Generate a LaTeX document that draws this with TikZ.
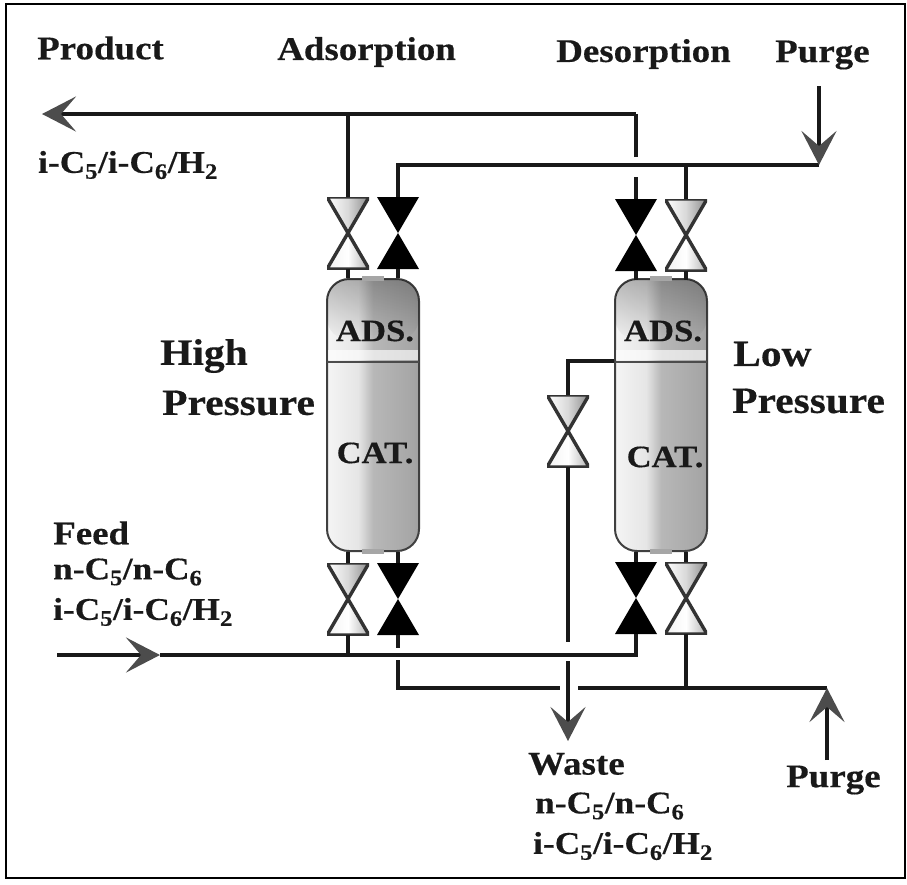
\documentclass[tikz,border=0pt]{standalone}
\usepackage{fontspec}
\setmainfont{Liberation Serif}[FakeStretch=1.12, BoldFeatures={FakeBold=0.4}]
\usetikzlibrary{arrows.meta, positioning, fadings}

\pgfdeclarehorizontalshading{vesselshade}{100bp}{
  color(0bp)=(black!55); color(6bp)=(black!40); color(12bp)=(black!15);
  color(22bp)=(black!3); color(42bp)=(black!10); color(50bp)=(black!28);
  color(72bp)=(black!35); color(88bp)=(black!48); color(100bp)=(black!75)}

\newcommand{\normalmix}{n-C\textsubscript{5}/n-C\textsubscript{6}}
\newcommand{\isomix}{i-C\textsubscript{5}/i-C\textsubscript{6}/H\textsubscript{2}}

\tikzset{
  pipe/.style={line width=3.8pt, black!90},
  flow/.style={pipe, -{Stealth[length=34pt, width=35pt, inset=15pt, black!70]}},
  label/.style={font=\fontsize{33}{36}\bfseries\selectfont, inner sep=0pt, anchor=west, text=black!90},
  mixlabel/.style={label, font=\fontsize{31.5}{36}\bfseries\selectfont},
  biglabel/.style={label, font=\fontsize{37}{42}\bfseries\selectfont},
  tag/.style={label, font=\fontsize{31}{36}\bfseries\selectfont, anchor=center},
  vessel/.style={draw=black!75, line width=2pt, shading=vesselshade, rounded corners=22pt,
    minimum width=92pt, minimum height=272pt, inner sep=0pt},
  valvebox/.style={minimum width=42pt, minimum height=72pt, inner sep=0pt},
  openvalve/.style={valvebox, path picture={
    \shade[left color=white, right color=black!45, middle color=black!15]
      (path picture bounding box.north west) -- (path picture bounding box.north east)
      -- (path picture bounding box.center) -- cycle;
    \shade[left color=black!5, right color=black!30, middle color=white]
      (path picture bounding box.south west) -- (path picture bounding box.south east)
      -- (path picture bounding box.center) -- cycle;
    \draw[black!80, line width=3.4pt]
      (path picture bounding box.north west) -- (path picture bounding box.north east)
      -- (path picture bounding box.south west) -- (path picture bounding box.south east)
      -- (path picture bounding box.north west);
  }},
  shutvalve/.style={valvebox, path picture={
    \fill[black]
      (path picture bounding box.north west) -- (path picture bounding box.north east)
      -- (path picture bounding box.south west) -- (path picture bounding box.south east) -- cycle;
  }}
}

\begin{document}
\begin{tikzpicture}[x=1pt, y=-1pt]
  \useasboundingbox (0,0) rectangle (907,884);
  \draw[line width=2.6pt] (6,4) rectangle (905,878);

  % vessels
  \node[vessel] (high) at (373,415) {};
  \node[vessel] (low) at (661,415) {};
  \foreach \ves/\x in {high/373, low/661} {
    \fill[black, path fading=south, fill opacity=0.25, rounded corners=22pt]
      (\x-46,340) -- (\x-46,279) -- (\x+46,279) -- (\x+46,340) -- cycle;
    \fill[white, opacity=0.65] (\x-45,350) rectangle (\x+45,360);
    \draw[black!70, line width=2.6pt] (\x-46,362) -- (\x+46,362);
    \fill[black!35] (\x-11,276) rectangle (\x+11,281);
    \fill[black!35] (\x-11,549) rectangle (\x+11,554);
  }

  % valves
  \node[openvalve] (hightopa) at (348,233) {};
  \node[shutvalve] (hightopb) at (398,233) {};
  \node[shutvalve] (lowtopa) at (636,235) {};
  \node[openvalve] (lowtopb) at (686,235) {};
  \node[openvalve] (highbota) at (348,599) {};
  \node[shutvalve] (highbotb) at (398,599) {};
  \node[shutvalve] (lowbota) at (636,598) {};
  \node[openvalve] (lowbotb) at (686,598) {};
  \node[openvalve] (wastevalve) at (568,431) {};

  % points on the pipes
  \coordinate (productend) at (42,114);
  \coordinate (productjoin) at (348,114);
  \coordinate (productcorner) at (636,114);
  \coordinate (productgapa) at (636,157);
  \coordinate (productgapb) at (636,177);
  \coordinate (purgetopstart) at (819,86);
  \coordinate (purgetopjoin) at (819,165);
  \coordinate (purgetopcorner) at (398,165);
  \coordinate (purgetopbranch) at (686,165);
  \coordinate (feedstart) at (57,655);
  \coordinate (feedtip) at (160,655);
  \coordinate (feedjoin) at (348,655);
  \coordinate (feedend) at (636,655);
  \coordinate (wastegapa) at (398,648);
  \coordinate (wastegapb) at (398,660);
  \coordinate (purgelowcorner) at (398,688);
  \coordinate (purgelowgapa) at (560,688);
  \coordinate (purgelowgapb) at (578,688);
  \coordinate (purgelowbranch) at (686,688);
  \coordinate (purgelowjoin) at (827,688);
  \coordinate (purgelowstart) at (827,760);
  \coordinate (wastecorner) at (568,361);
  \coordinate (wastelinea) at (568,642);
  \coordinate (wastelineb) at (568,661);
  \coordinate (wastetip) at (568,741);

  % top pipes
  \draw[flow] (productcorner) -- (productend);
  \draw[pipe] (productgapa) -- (productcorner);
  \draw[pipe] (productgapb) -- (lowtopa.north);
  \draw[pipe] (productjoin) -- (hightopa.north);
  \draw[pipe] (purgetopjoin) -- (purgetopcorner) -- (hightopb.north);
  \draw[pipe] (purgetopbranch) -- (lowtopb.north);
  \draw[flow] (purgetopstart) -- (purgetopjoin);
  \draw[pipe] (hightopa.south) -- (348,278);
  \draw[pipe] (hightopb.south) -- (398,278);
  \draw[pipe] (lowtopa.south) -- (636,280);
  \draw[pipe] (lowtopb.south) -- (686,280);

  % bottom pipes
  \draw[pipe] (highbota.north) -- (348,552);
  \draw[pipe] (highbotb.north) -- (398,552);
  \draw[pipe] (lowbota.north) -- (636,552);
  \draw[pipe] (lowbotb.north) -- (686,552);
  \draw[flow] (feedstart) -- (feedtip);
  \draw[pipe] (feedtip) -- (feedend) -- (lowbota.south);
  \draw[pipe] (highbota.south) -- (feedjoin);
  \draw[pipe] (highbotb.south) -- (wastegapa);
  \draw[pipe] (wastegapb) -- (purgelowcorner) -- (purgelowgapa);
  \draw[pipe] (purgelowgapb) -- (purgelowjoin);
  \draw[pipe] (lowbotb.south) -- (purgelowbranch);
  \draw[flow] (purgelowstart) -- (purgelowjoin);

  % waste line
  \draw[pipe] (low.west |- wastecorner) -- (wastecorner) -- (wastevalve.north);
  \draw[pipe] (wastevalve.south) -- (wastelinea);
  \draw[flow] (wastelineb) -- (wastetip);

  % texts
  \node[label] (product) at (37,48) {Product};
  \node[label] (adsorption) at (277,52) {Adsorption};
  \node[label] (desorption) at (556,54) {Desorption};
  \node[label] (purgetop) at (775,55) {Purge};
  \node[mixlabel] (productmix) at (38,165) {\isomix};
  \node[biglabel] (highname) at (160,356) {High};
  \node[biglabel] (highpress) at (162,403) {Pressure};
  \node[biglabel] (lowname) at (733,354) {Low};
  \node[biglabel] (lowpress) at (732,401) {Pressure};
  \node[tag] (adshigh) at (375,331) {ADS.};
  \node[tag] (adslow) at (663,331) {ADS.};
  \node[tag] (cathigh) at (375,453) {CAT.};
  \node[tag] (catlow) at (665,457) {CAT.};
  \node[label] (feed) at (53,533) {Feed};
  \node[mixlabel] (feednormal) at (53,572) {\normalmix};
  \node[mixlabel] (feediso) at (53,612) {\isomix};
  \node[label] (waste) at (528,764) {Waste};
  \node[mixlabel] (wastenormal) at (535,806) {\normalmix};
  \node[mixlabel] (wasteiso) at (533,846) {\isomix};
  \node[label] (purgelow) at (786,780) {Purge};
\end{tikzpicture}
\end{document}
